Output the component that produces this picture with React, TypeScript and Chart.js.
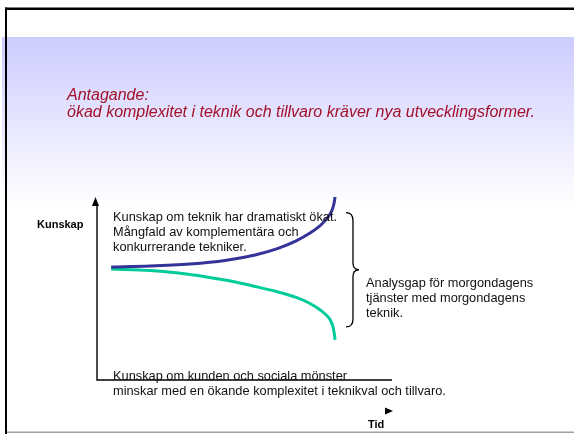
import { useEffect, useRef } from "react";
import { Chart, registerables } from "chart.js";

Chart.register(...registerables);

// ---- Data (time 0..100, knowledge 0..100) ----
const timeTech = [4.8, 18.0, 31.5, 43.4, 53.6, 61.4, 67.5, 72.2, 75.9, 78.6, 79.7, 80.3, 80.7];
const knowledgeTech = [61.8, 62.3, 63.4, 65.3, 68.3, 71.9, 76.0, 80.3, 84.7, 89.6, 92.9, 96.2, 100];
const timeCustomer = [4.8, 18.0, 31.5, 43.4, 53.6, 61.4, 67.5, 72.2, 75.9, 78.6, 79.3, 80.0, 80.4, 80.7];
const knowledgeCustomer = [60.7, 59.8, 57.7, 54.6, 51.1, 48.1, 45.1, 41.8, 38.0, 33.9, 32.0, 29.0, 25.7, 21.9];

// gap brace spans these knowledge values
const gapTop = 91.5;
const gapBottom = 29;
const gapTime = 84.4;

// ---- Texts ----
const titleLines = ["Antagande:", "ökad komplexitet i teknik och tillvaro kräver nya utvecklingsformer."];
const techLines = ["Kunskap om teknik har dramatiskt ökat.", "Mångfald av komplementära och", "konkurrerande tekniker."];
const gapLines = ["Analysgap för morgondagens", "tjänster med morgondagens", "teknik."];
const customerLines = ["Kunskap om kunden och sociala mönster", "minskar med en ökande komplexitet i teknikval och tillvaro."];
const yAxisLabel = "Kunskap";
const xAxisLabel = "Tid";

const W = 574;
const H = 434;
const FONT = "'Liberation Sans', Arial, Helvetica, sans-serif";

const slidePlugin = {
  id: "slide",
  beforeDraw(chart: any) {
    const ctx = chart.ctx as CanvasRenderingContext2D;
    ctx.save();
    ctx.fillStyle = "#ffffff";
    ctx.fillRect(0, 0, W, H);
    const g = ctx.createLinearGradient(0, 37, 0, 205);
    g.addColorStop(0, "#ccccff");
    g.addColorStop(1, "#ffffff");
    ctx.fillStyle = g;
    ctx.fillRect(2, 37, W - 2, 205 - 37);
    // frame
    ctx.fillStyle = "#000000";
    ctx.fillRect(5, 7.5, W - 5, 2.5);
    ctx.fillRect(5, 7.5, 2, H - 7.5);
    ctx.fillStyle = "#a0a0a0";
    ctx.fillRect(7, 431.5, W - 7, 1.5);
    ctx.restore();
  },
  afterDatasetsDraw(chart: any) {
    const ctx = chart.ctx as CanvasRenderingContext2D;
    const xs = chart.scales.x;
    const ys = chart.scales.y;
    const { left, right, top, bottom } = chart.chartArea;
    ctx.save();
    // axes
    ctx.strokeStyle = "#000";
    ctx.lineWidth = 1.4;
    ctx.beginPath();
    ctx.moveTo(left, top + 6);
    ctx.lineTo(left, bottom);
    ctx.lineTo(right, bottom);
    ctx.stroke();
    ctx.fillStyle = "#000";
    // up arrow
    ctx.beginPath();
    ctx.moveTo(left - 1.5, top);
    ctx.lineTo(left - 5, top + 9);
    ctx.lineTo(left + 2, top + 9);
    ctx.closePath();
    ctx.fill();
    // right arrow (near "Tid")
    ctx.beginPath();
    ctx.moveTo(right + 1, bottom + 31);
    ctx.lineTo(right - 7, bottom + 27.5);
    ctx.lineTo(right - 7, bottom + 34.5);
    ctx.closePath();
    ctx.fill();

    // brace
    const bx = xs.getPixelForValue(gapTime);
    const by1 = ys.getPixelForValue(gapTop);
    const by2 = ys.getPixelForValue(gapBottom);
    const bm = (by1 + by2) / 2;
    const sx = bx + 7;
    ctx.lineWidth = 1.3;
    ctx.beginPath();
    ctx.moveTo(bx, by1);
    ctx.quadraticCurveTo(sx, by1, sx, by1 + 8);
    ctx.lineTo(sx, bm - 7);
    ctx.quadraticCurveTo(sx, bm, sx + 6, bm);
    ctx.quadraticCurveTo(sx, bm, sx, bm + 7);
    ctx.lineTo(sx, by2 - 8);
    ctx.quadraticCurveTo(sx, by2, bx, by2);
    ctx.stroke();

    // texts
    ctx.textBaseline = "alphabetic";
    ctx.textAlign = "left";
    ctx.fillStyle = "#a31029";
    ctx.font = `italic 16px ${FONT}`;
    ctx.fillText(titleLines[0], 67, 100);
    ctx.fillText(titleLines[1], 67, 117);

    ctx.fillStyle = "#111";
    ctx.font = `12.8px ${FONT}`;
    techLines.forEach((t, i) => ctx.fillText(t, 113, 221 + i * 15));
    gapLines.forEach((t, i) => ctx.fillText(t, 366, 287 + i * 15));
    customerLines.forEach((t, i) => ctx.fillText(t, 113, 379.5 + i * 15));

    ctx.fillStyle = "#000";
    ctx.font = `bold 11px ${FONT}`;
    ctx.fillText(yAxisLabel, 37, 228);
    ctx.fillText(xAxisLabel, 368, 428);
    ctx.restore();
  },
};

export default function App() {
  const ref = useRef<HTMLCanvasElement>(null);
  useEffect(() => {
    if (!ref.current) return;
    const chart = new Chart(ref.current, {
      type: "scatter",
      data: {
        datasets: [
          {
            label: "Teknik",
            data: timeTech.map((x, i) => ({ x, y: knowledgeTech[i] })),
            showLine: true,
            borderColor: "#333399",
            borderWidth: 3,
            pointRadius: 0,
            cubicInterpolationMode: "monotone",
            clip: false,
          } as any,
          {
            label: "Kunden",
            data: timeCustomer.map((x, i) => ({ x, y: knowledgeCustomer[i] })),
            showLine: true,
            borderColor: "#00cc99",
            borderWidth: 3,
            pointRadius: 0,
            cubicInterpolationMode: "monotone",
            clip: false,
          } as any,
        ],
      },
      options: {
        animation: false,
        responsive: false,
        devicePixelRatio: 1,
        layout: { padding: { left: 97, right: W - 392, top: 197, bottom: H - 380 } },
        scales: {
          x: { type: "linear", min: 0, max: 100, display: false },
          y: { type: "linear", min: 0, max: 100, display: false },
        },
        plugins: { legend: { display: false }, tooltip: { enabled: false } },
      },
      plugins: [slidePlugin],
    });
    return () => chart.destroy();
  }, []);
  return (
    <div style={{ position: "fixed", left: 0, top: 0, width: W, height: H, background: "#fff" }}>
      <canvas ref={ref} width={W} height={H} style={{ display: "block" }} />
    </div>
  );
}
